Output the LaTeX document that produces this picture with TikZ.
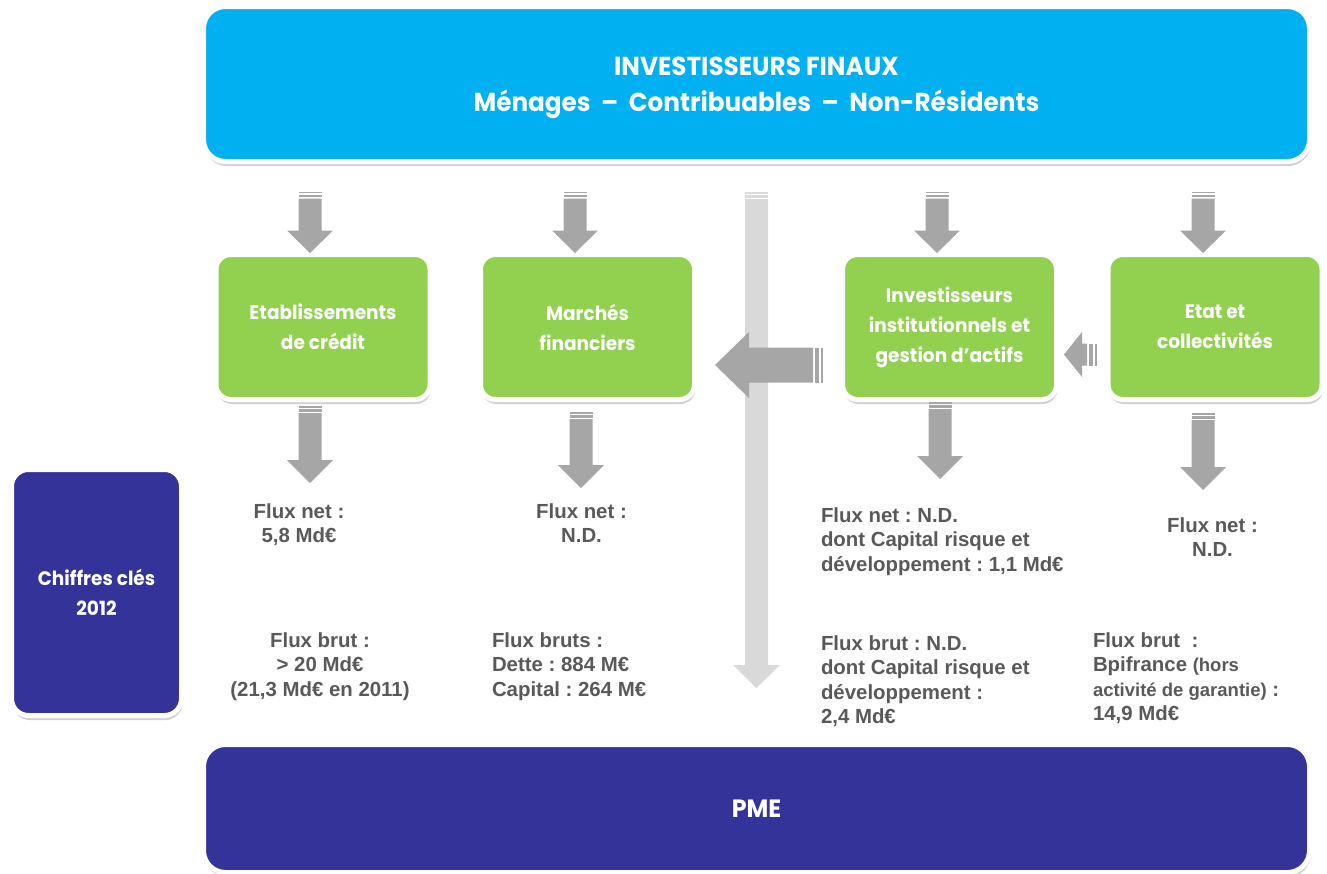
\documentclass[tikz,border=0pt]{standalone}
\usepackage{fontspec}
\setmainfont{Liberation Sans}
\newfontfamily\boxfont{Poppins}[FakeStretch=0.95]
\usetikzlibrary{shadows,calc}
\frenchspacing

\definecolor{topblue}{HTML}{00B0F0}
\definecolor{agentgreen}{HTML}{92D050}
\definecolor{deepnavy}{HTML}{333399}
\definecolor{arrowgrey}{HTML}{A6A6A6}
\definecolor{railgrey}{HTML}{D9D9D9}
\definecolor{figgrey}{HTML}{595959}

% striped block arrow pointing down: tip, length, shaft half-width, head half-width, head length, colour
\newcommand\blockdown[6]{%
  \begin{scope}[shift={#1}]
    \fill[#6] (-#3,-#2) rectangle (#3,-#2+1.5);
    \fill[#6] (-#3,-#2+3) rectangle (#3,-#2+5.5);
    \fill[#6] (-#3,-#2+7) -- (#3,-#2+7) -- (#3,-#5) -- (#4,-#5) -- (0,0)
      -- (-#4,-#5) -- (-#3,-#5) -- cycle;
  \end{scope}}

% striped block arrow pointing left: tip, length, shaft half-height, head half-height, head length, colour
\newcommand\blockleft[6]{%
  \begin{scope}[shift={#1}]
    \fill[#6] (#2-2.5,-#3) rectangle (#2,#3);
    \fill[#6] (#2-8.5,-#3) rectangle (#2-4,#3);
    \fill[#6] (0,0) -- (#5,-#4) -- (#5,-#3) -- (#2-10,-#3) -- (#2-10,#3)
      -- (#5,#3) -- (#5,#4) -- cycle;
  \end{scope}}

\tikzset{
  boxshadow/.style={drop shadow={shadow xshift=1pt, shadow yshift=-4.5pt,
      opacity=.25, fill=black!70}},
  panel/.style={draw=white, line width=5pt, inner sep=0pt, outer sep=0pt,
    align=center, text=white, boxshadow},
  topbox/.style={panel, fill=topblue, rounded corners=22pt,
    minimum width=1106pt, minimum height=155pt, text depth=0pt,
    font=\boxfont\bfseries\fontsize{26}{36}\selectfont},
  agent/.style={panel, fill=agentgreen, rounded corners=15pt,
    minimum width=214pt, minimum height=145pt,
    font=\boxfont\bfseries\fontsize{19.5}{30}\selectfont},
  keybox/.style={panel, fill=deepnavy, rounded corners=17pt,
    minimum width=170pt, minimum height=246pt,
    font=\boxfont\bfseries\fontsize{19.5}{30}\selectfont},
  pmebox/.style={panel, fill=deepnavy, rounded corners=22pt,
    minimum width=1106pt, minimum height=128pt,
    font=\boxfont\bfseries\fontsize{25}{30}\selectfont},
  figs/.style={text=figgrey, inner sep=0pt, outer sep=0pt,
    font=\bfseries\fontsize{20.4}{24.5}\selectfont},
}
\newcommand\smallpart{\fontsize{18.5}{24.5}\selectfont}

\begin{document}
\begin{tikzpicture}[x=1pt,y=-1pt]
\useasboundingbox (0,0) rectangle (1327,873);

% boxes
\node[topbox] (top) at (756.5,84)
  {INVESTISSEURS FINAUX\\Ménages~~–~~Contribuables~~–~~Non-Résidents};
\node[agent] (b1) at (323,327) {Etablissements\\de crédit};
\node[agent] (b2) at (587.5,327) {Marchés\\financiers};
\node[agent] (b3) at (949.5,327) {Investisseurs\\institutionnels et\\gestion d’actifs};
\node[agent] (b4) at (1215,327) {Etat et\\collectivités};
\node[keybox] (key) at (96.5,592.5) {Chiffres clés\\2012};
\node[pmebox] (pme) at (756.5,808.5) {PME};

% long light rail arrow from the investors towards the SMEs
\blockdown{($(top.south)+(0,526.5)$)}{496}{11.5}{23.5}{23}{railgrey}

% flows into the intermediaries
\blockdown{($(b1.north)+(-13,-1.5)$)}{61.5}{11.5}{23}{22.5}{arrowgrey}
\blockdown{($(b2.north)+(-12.5,-1.5)$)}{61.5}{11.5}{23}{22.5}{arrowgrey}
\blockdown{($(b3.north)+(-12.5,-1.5)$)}{61.5}{11.5}{23}{22.5}{arrowgrey}
\blockdown{($(b4.north)+(-12,-1.5)$)}{61.5}{11.5}{23}{22.5}{arrowgrey}

% flows out of the intermediaries
\blockdown{($(b1.south)+(-13,83.5)$)}{77}{11.5}{23}{23}{arrowgrey}
\blockdown{($(b2.south)+(-6.5,88.5)$)}{76}{11.5}{23}{23}{arrowgrey}
\blockdown{($(b3.south)+(-9.5,79.5)$)}{77}{11.5}{23}{23}{arrowgrey}
\blockdown{($(b4.south)+(-12,90.5)$)}{77}{11.5}{23}{23}{arrowgrey}

% transfers between intermediaries
\blockleft{($(b2.east)+(20.5,38)$)}{108}{17.5}{33}{34}{arrowgrey}
\blockleft{($(b3.east)+(7.5,27.5)$)}{33}{11}{22.5}{18}{arrowgrey}

% key figures
\node[figs, anchor=north, align=center] (n1) at (299,500.85)
  {\strut Flux net :\\5,8 Md€};
\node[figs, anchor=north, align=center] (g1) at (320,629.85)
  {\strut Flux brut :\\> 20 Md€\\(21,3 Md€ en 2011)};
\node[figs, anchor=north, align=center] (n2) at (581.5,500.85)
  {\strut Flux net :\\N.D.};
\node[figs, anchor=north west, align=left] (g2) at (492,629.85)
  {\strut Flux bruts :\\Dette : 884 M€\\Capital : 264 M€};
\node[figs, anchor=north west, align=left] (n3) at (821,504.85)
  {\strut Flux net : N.D.\\dont Capital risque et\\développement : 1,1 Md€};
\node[figs, anchor=north west, align=left] (g3) at (821,632.85)
  {\strut Flux brut : N.D.\\dont Capital risque et\\développement :\\2,4 Md€};
\node[figs, anchor=north, align=center] (n4) at (1212.5,514.85)
  {\strut Flux net :\\N.D.};
\node[figs, anchor=north west, align=left] (g4) at (1093,629.85)
  {\strut Flux brut~ :\\Bpifrance {\smallpart(hors}\\{\smallpart activité de garantie)} :\\14,9 Md€};
\end{tikzpicture}
\end{document}
